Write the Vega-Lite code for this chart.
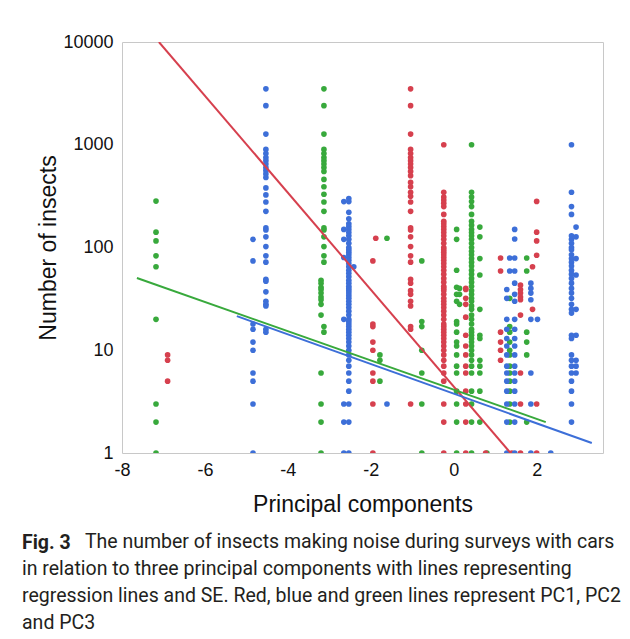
{
 "$schema": "https://vega.github.io/schema/vega-lite/v6.json",
 "width": 481, "height": 411,
 "autosize": "none",
 "padding": {"left": 122, "top": 42, "right": 27, "bottom": 186},
 "background": "white",
 "config": {"view": {"stroke": "#c8c8c8", "strokeWidth": 1}, "font": "Liberation Sans"},
 "title": {
  "text": "Fig. 3",
  "subtitle": [
   "\u200b\u00a0\u00a0\u00a0\u00a0\u00a0\u00a0\u00a0\u00a0\u00a0\u00a0\u00a0\u00a0\u00a0The number of insects making noise during surveys with cars",
   "in relation to three principal components with lines representing",
   "regression lines and SE. Red, blue and green lines represent PC1, PC2",
   "and PC3"
  ],
  "orient": "bottom", "anchor": "start", "frame": "group", "dx": -100, "offset": 18,
  "font": "Roboto", "fontSize": 19.5, "fontWeight": "bold", "color": "#231f20",
  "subtitleFont": "Roboto", "subtitleFontSize": 19.5, "subtitleFontWeight": "normal", "subtitleColor": "#231f20",
  "subtitleLineHeight": 27, "subtitlePadding": -21
 },
 "datasets": {
  "points": [
   {"pc":"PC3","score":-7.18,"count":283},{"pc":"PC3","score":-7.18,"count":141},{"pc":"PC3","score":-7.18,"count":116},{"pc":"PC3","score":-7.18,"count":83},{"pc":"PC3","score":-7.18,"count":65},{"pc":"PC3","score":-7.18,"count":20},{"pc":"PC3","score":-7.18,"count":3},{"pc":"PC3","score":-7.18,"count":2},{"pc":"PC3","score":-7.18,"count":1},
   {"pc":"PC3","score":-3.13,"count":3500},{"pc":"PC3","score":-3.13,"count":2400},{"pc":"PC3","score":-3.13,"count":1270},{"pc":"PC3","score":-3.13,"count":900},{"pc":"PC3","score":-3.13,"count":820},{"pc":"PC3","score":-3.13,"count":750},{"pc":"PC3","score":-3.13,"count":700},{"pc":"PC3","score":-3.13,"count":650},{"pc":"PC3","score":-3.13,"count":600},{"pc":"PC3","score":-3.13,"count":550},{"pc":"PC3","score":-3.13,"count":460},{"pc":"PC3","score":-3.13,"count":390},{"pc":"PC3","score":-3.13,"count":330},{"pc":"PC3","score":-3.13,"count":277},{"pc":"PC3","score":-3.13,"count":225},{"pc":"PC3","score":-3.13,"count":155},{"pc":"PC3","score":-3.13,"count":148},{"pc":"PC3","score":-3.13,"count":127},{"pc":"PC3","score":-3.13,"count":102},{"pc":"PC3","score":-3.13,"count":83},{"pc":"PC3","score":-3.13,"count":72},{"pc":"PC3","score":-3.13,"count":17},{"pc":"PC3","score":-3.13,"count":15},
   {"pc":"PC3","score":-3.2,"count":48},{"pc":"PC3","score":-3.2,"count":45},{"pc":"PC3","score":-3.2,"count":41},{"pc":"PC3","score":-3.2,"count":39},{"pc":"PC3","score":-3.2,"count":36},{"pc":"PC3","score":-3.2,"count":33},{"pc":"PC3","score":-3.2,"count":31},{"pc":"PC3","score":-3.2,"count":28},{"pc":"PC3","score":-3.2,"count":22},{"pc":"PC3","score":-3.2,"count":6},{"pc":"PC3","score":-3.2,"count":3},{"pc":"PC3","score":-3.2,"count":2},{"pc":"PC3","score":-3.2,"count":1},
   {"pc":"PC3","score":-1.61,"count":123},
   {"pc":"PC3","score":-1.78,"count":9},{"pc":"PC3","score":-1.78,"count":8},{"pc":"PC3","score":-1.78,"count":5},
   {"pc":"PC3","score":-0.77,"count":74},{"pc":"PC3","score":-0.77,"count":19},{"pc":"PC3","score":-0.77,"count":17},{"pc":"PC3","score":-0.77,"count":10},{"pc":"PC3","score":-0.77,"count":6},{"pc":"PC3","score":-0.77,"count":3},{"pc":"PC3","score":-0.77,"count":1},
   {"pc":"PC3","score":0.07,"count":150},{"pc":"PC3","score":0.07,"count":120},{"pc":"PC3","score":0.07,"count":60},{"pc":"PC3","score":0.07,"count":41},{"pc":"PC3","score":0.07,"count":35},{"pc":"PC3","score":0.07,"count":30},{"pc":"PC3","score":0.07,"count":19},{"pc":"PC3","score":0.07,"count":18},{"pc":"PC3","score":0.07,"count":15},{"pc":"PC3","score":0.07,"count":12},{"pc":"PC3","score":0.07,"count":11},{"pc":"PC3","score":0.07,"count":9},{"pc":"PC3","score":0.07,"count":7},{"pc":"PC3","score":0.07,"count":6},{"pc":"PC3","score":0.07,"count":4},{"pc":"PC3","score":0.07,"count":3},{"pc":"PC3","score":0.07,"count":2},{"pc":"PC3","score":0.07,"count":1},
   {"pc":"PC3","score":0.14,"count":40},{"pc":"PC3","score":0.14,"count":35},{"pc":"PC3","score":0.14,"count":28},
   {"pc":"PC3","score":0.43,"count":1000},{"pc":"PC3","score":0.43,"count":345},{"pc":"PC3","score":0.43,"count":310},{"pc":"PC3","score":0.43,"count":280},{"pc":"PC3","score":0.43,"count":250},{"pc":"PC3","score":0.43,"count":210},{"pc":"PC3","score":0.43,"count":180},{"pc":"PC3","score":0.43,"count":165},{"pc":"PC3","score":0.43,"count":150},{"pc":"PC3","score":0.43,"count":140},{"pc":"PC3","score":0.43,"count":130},{"pc":"PC3","score":0.43,"count":120},{"pc":"PC3","score":0.43,"count":110},{"pc":"PC3","score":0.43,"count":100},{"pc":"PC3","score":0.43,"count":92},{"pc":"PC3","score":0.43,"count":85},{"pc":"PC3","score":0.43,"count":78},{"pc":"PC3","score":0.43,"count":72},{"pc":"PC3","score":0.43,"count":66},{"pc":"PC3","score":0.43,"count":60},{"pc":"PC3","score":0.43,"count":55},{"pc":"PC3","score":0.43,"count":50},{"pc":"PC3","score":0.43,"count":46},{"pc":"PC3","score":0.43,"count":42},{"pc":"PC3","score":0.43,"count":38},{"pc":"PC3","score":0.43,"count":35},{"pc":"PC3","score":0.43,"count":32},{"pc":"PC3","score":0.43,"count":30},{"pc":"PC3","score":0.43,"count":27},{"pc":"PC3","score":0.43,"count":25},{"pc":"PC3","score":0.43,"count":22},{"pc":"PC3","score":0.43,"count":20},{"pc":"PC3","score":0.43,"count":18},{"pc":"PC3","score":0.43,"count":16},{"pc":"PC3","score":0.43,"count":15},{"pc":"PC3","score":0.43,"count":14},{"pc":"PC3","score":0.43,"count":13},{"pc":"PC3","score":0.43,"count":12},{"pc":"PC3","score":0.43,"count":11},{"pc":"PC3","score":0.43,"count":10},{"pc":"PC3","score":0.43,"count":9},{"pc":"PC3","score":0.43,"count":8},{"pc":"PC3","score":0.43,"count":7},{"pc":"PC3","score":0.43,"count":6},{"pc":"PC3","score":0.43,"count":4},{"pc":"PC3","score":0.43,"count":3},{"pc":"PC3","score":0.43,"count":2},{"pc":"PC3","score":0.43,"count":1},
   {"pc":"PC3","score":0.63,"count":158},{"pc":"PC3","score":0.63,"count":127},{"pc":"PC3","score":0.63,"count":78},{"pc":"PC3","score":0.63,"count":54},{"pc":"PC3","score":0.63,"count":25},{"pc":"PC3","score":0.63,"count":14},{"pc":"PC3","score":0.63,"count":13},{"pc":"PC3","score":0.63,"count":8},{"pc":"PC3","score":0.63,"count":7},{"pc":"PC3","score":0.63,"count":6},{"pc":"PC3","score":0.63,"count":4},{"pc":"PC3","score":0.63,"count":2},
   {"pc":"PC3","score":0.8,"count":1},
   {"pc":"PC3","score":1.35,"count":32},{"pc":"PC3","score":1.35,"count":17},{"pc":"PC3","score":1.35,"count":15},{"pc":"PC3","score":1.35,"count":12},{"pc":"PC3","score":1.35,"count":10},{"pc":"PC3","score":1.35,"count":9},{"pc":"PC3","score":1.35,"count":7},{"pc":"PC3","score":1.35,"count":6},{"pc":"PC3","score":1.35,"count":5},{"pc":"PC3","score":1.35,"count":4},{"pc":"PC3","score":1.35,"count":3},{"pc":"PC3","score":1.35,"count":2},
   {"pc":"PC3","score":1.76,"count":79},{"pc":"PC3","score":1.76,"count":59},{"pc":"PC3","score":1.76,"count":15},{"pc":"PC3","score":1.76,"count":12},{"pc":"PC3","score":1.76,"count":9},{"pc":"PC3","score":1.76,"count":2},
   {"pc":"PC1","score":-6.9,"count":9},{"pc":"PC1","score":-6.9,"count":8},{"pc":"PC1","score":-6.9,"count":5},
   {"pc":"PC1","score":-1.95,"count":74},{"pc":"PC1","score":-1.95,"count":18},{"pc":"PC1","score":-1.95,"count":17},{"pc":"PC1","score":-1.95,"count":12},{"pc":"PC1","score":-1.95,"count":10},{"pc":"PC1","score":-1.95,"count":6},{"pc":"PC1","score":-1.95,"count":5},{"pc":"PC1","score":-1.95,"count":3},{"pc":"PC1","score":-1.95,"count":1},
   {"pc":"PC1","score":-1.88,"count":123},
   {"pc":"PC1","score":-1.04,"count":3500},{"pc":"PC1","score":-1.04,"count":2400},{"pc":"PC1","score":-1.04,"count":1270},{"pc":"PC1","score":-1.04,"count":900},{"pc":"PC1","score":-1.04,"count":820},{"pc":"PC1","score":-1.04,"count":750},{"pc":"PC1","score":-1.04,"count":700},{"pc":"PC1","score":-1.04,"count":650},{"pc":"PC1","score":-1.04,"count":600},{"pc":"PC1","score":-1.04,"count":550},{"pc":"PC1","score":-1.04,"count":500},{"pc":"PC1","score":-1.04,"count":430},{"pc":"PC1","score":-1.04,"count":390},{"pc":"PC1","score":-1.04,"count":345},{"pc":"PC1","score":-1.04,"count":315},{"pc":"PC1","score":-1.04,"count":277},{"pc":"PC1","score":-1.04,"count":225},{"pc":"PC1","score":-1.04,"count":155},{"pc":"PC1","score":-1.04,"count":148},{"pc":"PC1","score":-1.04,"count":127},{"pc":"PC1","score":-1.04,"count":102},{"pc":"PC1","score":-1.04,"count":83},{"pc":"PC1","score":-1.04,"count":72},{"pc":"PC1","score":-1.04,"count":49},{"pc":"PC1","score":-1.04,"count":45},{"pc":"PC1","score":-1.04,"count":38},{"pc":"PC1","score":-1.04,"count":35},{"pc":"PC1","score":-1.04,"count":30},{"pc":"PC1","score":-1.04,"count":27},{"pc":"PC1","score":-1.04,"count":17},{"pc":"PC1","score":-1.04,"count":16},{"pc":"PC1","score":-1.04,"count":3},
   {"pc":"PC1","score":-0.24,"count":1000},{"pc":"PC1","score":-0.24,"count":345},{"pc":"PC1","score":-0.24,"count":310},{"pc":"PC1","score":-0.24,"count":290},{"pc":"PC1","score":-0.24,"count":270},{"pc":"PC1","score":-0.24,"count":250},{"pc":"PC1","score":-0.24,"count":210},{"pc":"PC1","score":-0.24,"count":180},{"pc":"PC1","score":-0.24,"count":170},{"pc":"PC1","score":-0.24,"count":160},{"pc":"PC1","score":-0.24,"count":150},{"pc":"PC1","score":-0.24,"count":140},{"pc":"PC1","score":-0.24,"count":130},{"pc":"PC1","score":-0.24,"count":120},{"pc":"PC1","score":-0.24,"count":110},{"pc":"PC1","score":-0.24,"count":100},{"pc":"PC1","score":-0.24,"count":95},{"pc":"PC1","score":-0.24,"count":90},{"pc":"PC1","score":-0.24,"count":85},{"pc":"PC1","score":-0.24,"count":80},{"pc":"PC1","score":-0.24,"count":75},{"pc":"PC1","score":-0.24,"count":70},{"pc":"PC1","score":-0.24,"count":65},{"pc":"PC1","score":-0.24,"count":60},{"pc":"PC1","score":-0.24,"count":55},{"pc":"PC1","score":-0.24,"count":50},{"pc":"PC1","score":-0.24,"count":46},{"pc":"PC1","score":-0.24,"count":42},{"pc":"PC1","score":-0.24,"count":40},{"pc":"PC1","score":-0.24,"count":38},{"pc":"PC1","score":-0.24,"count":35},{"pc":"PC1","score":-0.24,"count":32},{"pc":"PC1","score":-0.24,"count":30},{"pc":"PC1","score":-0.24,"count":28},{"pc":"PC1","score":-0.24,"count":26},{"pc":"PC1","score":-0.24,"count":24},{"pc":"PC1","score":-0.24,"count":22},{"pc":"PC1","score":-0.24,"count":20},{"pc":"PC1","score":-0.24,"count":18},{"pc":"PC1","score":-0.24,"count":17},{"pc":"PC1","score":-0.24,"count":16},{"pc":"PC1","score":-0.24,"count":15},{"pc":"PC1","score":-0.24,"count":14},{"pc":"PC1","score":-0.24,"count":13},{"pc":"PC1","score":-0.24,"count":12},{"pc":"PC1","score":-0.24,"count":11},{"pc":"PC1","score":-0.24,"count":10},{"pc":"PC1","score":-0.24,"count":9},{"pc":"PC1","score":-0.24,"count":8},{"pc":"PC1","score":-0.24,"count":7},{"pc":"PC1","score":-0.24,"count":6},{"pc":"PC1","score":-0.24,"count":5},{"pc":"PC1","score":-0.24,"count":3},{"pc":"PC1","score":-0.24,"count":2},{"pc":"PC1","score":-0.24,"count":1},
   {"pc":"PC1","score":0.29,"count":40},{"pc":"PC1","score":0.29,"count":39},{"pc":"PC1","score":0.29,"count":32},{"pc":"PC1","score":0.29,"count":28},{"pc":"PC1","score":0.29,"count":21},{"pc":"PC1","score":0.29,"count":14},{"pc":"PC1","score":0.29,"count":11},{"pc":"PC1","score":0.29,"count":9},{"pc":"PC1","score":0.29,"count":7},{"pc":"PC1","score":0.29,"count":6},{"pc":"PC1","score":0.29,"count":4},{"pc":"PC1","score":0.29,"count":3},{"pc":"PC1","score":0.29,"count":2},{"pc":"PC1","score":0.29,"count":1},
   {"pc":"PC1","score":0.77,"count":1},
   {"pc":"PC1","score":1.13,"count":79},{"pc":"PC1","score":1.13,"count":59},{"pc":"PC1","score":1.13,"count":15},{"pc":"PC1","score":1.13,"count":12},{"pc":"PC1","score":1.13,"count":10},{"pc":"PC1","score":1.13,"count":8},
   {"pc":"PC1","score":1.4,"count":1},
   {"pc":"PC1","score":1.61,"count":43},{"pc":"PC1","score":1.61,"count":39},{"pc":"PC1","score":1.61,"count":36},{"pc":"PC1","score":1.61,"count":33},{"pc":"PC1","score":1.61,"count":31},{"pc":"PC1","score":1.61,"count":22},{"pc":"PC1","score":1.61,"count":6},{"pc":"PC1","score":1.61,"count":3},{"pc":"PC1","score":1.61,"count":1},
   {"pc":"PC1","score":1.9,"count":65},{"pc":"PC1","score":1.9,"count":25},
   {"pc":"PC1","score":2.0,"count":281},{"pc":"PC1","score":2.0,"count":141},{"pc":"PC1","score":2.0,"count":116},{"pc":"PC1","score":2.0,"count":84},{"pc":"PC1","score":2.0,"count":3},{"pc":"PC1","score":2.0,"count":1},
   {"pc":"PC2","score":-4.84,"count":120},{"pc":"PC2","score":-4.84,"count":74},{"pc":"PC2","score":-4.84,"count":18},{"pc":"PC2","score":-4.84,"count":16},{"pc":"PC2","score":-4.84,"count":12},{"pc":"PC2","score":-4.84,"count":10},{"pc":"PC2","score":-4.84,"count":6},{"pc":"PC2","score":-4.84,"count":5},{"pc":"PC2","score":-4.84,"count":3},{"pc":"PC2","score":-4.84,"count":1},
   {"pc":"PC2","score":-4.53,"count":3500},{"pc":"PC2","score":-4.53,"count":2400},{"pc":"PC2","score":-4.53,"count":1270},{"pc":"PC2","score":-4.53,"count":900},{"pc":"PC2","score":-4.53,"count":820},{"pc":"PC2","score":-4.53,"count":750},{"pc":"PC2","score":-4.53,"count":700},{"pc":"PC2","score":-4.53,"count":650},{"pc":"PC2","score":-4.53,"count":600},{"pc":"PC2","score":-4.53,"count":560},{"pc":"PC2","score":-4.53,"count":520},{"pc":"PC2","score":-4.53,"count":480},{"pc":"PC2","score":-4.53,"count":380},{"pc":"PC2","score":-4.53,"count":325},{"pc":"PC2","score":-4.53,"count":277},{"pc":"PC2","score":-4.53,"count":225},{"pc":"PC2","score":-4.53,"count":155},{"pc":"PC2","score":-4.53,"count":148},{"pc":"PC2","score":-4.53,"count":127},{"pc":"PC2","score":-4.53,"count":102},{"pc":"PC2","score":-4.53,"count":83},{"pc":"PC2","score":-4.53,"count":72},{"pc":"PC2","score":-4.53,"count":49},{"pc":"PC2","score":-4.53,"count":47},{"pc":"PC2","score":-4.53,"count":37},{"pc":"PC2","score":-4.53,"count":30},{"pc":"PC2","score":-4.53,"count":28},{"pc":"PC2","score":-4.53,"count":27},{"pc":"PC2","score":-4.53,"count":16},{"pc":"PC2","score":-4.53,"count":15},
   {"pc":"PC2","score":-2.53,"count":300},{"pc":"PC2","score":-2.53,"count":280},{"pc":"PC2","score":-2.53,"count":220},{"pc":"PC2","score":-2.53,"count":190},{"pc":"PC2","score":-2.53,"count":170},{"pc":"PC2","score":-2.53,"count":160},{"pc":"PC2","score":-2.53,"count":150},{"pc":"PC2","score":-2.53,"count":140},{"pc":"PC2","score":-2.53,"count":130},{"pc":"PC2","score":-2.53,"count":120},{"pc":"PC2","score":-2.53,"count":110},{"pc":"PC2","score":-2.53,"count":100},{"pc":"PC2","score":-2.53,"count":95},{"pc":"PC2","score":-2.53,"count":90},{"pc":"PC2","score":-2.53,"count":85},{"pc":"PC2","score":-2.53,"count":80},{"pc":"PC2","score":-2.53,"count":75},{"pc":"PC2","score":-2.53,"count":70},{"pc":"PC2","score":-2.53,"count":65},{"pc":"PC2","score":-2.53,"count":60},{"pc":"PC2","score":-2.53,"count":56},{"pc":"PC2","score":-2.53,"count":52},{"pc":"PC2","score":-2.53,"count":48},{"pc":"PC2","score":-2.53,"count":45},{"pc":"PC2","score":-2.53,"count":42},{"pc":"PC2","score":-2.53,"count":40},{"pc":"PC2","score":-2.53,"count":38},{"pc":"PC2","score":-2.53,"count":36},{"pc":"PC2","score":-2.53,"count":34},{"pc":"PC2","score":-2.53,"count":32},{"pc":"PC2","score":-2.53,"count":30},{"pc":"PC2","score":-2.53,"count":28},{"pc":"PC2","score":-2.53,"count":26},{"pc":"PC2","score":-2.53,"count":24},{"pc":"PC2","score":-2.53,"count":22},{"pc":"PC2","score":-2.53,"count":20},{"pc":"PC2","score":-2.53,"count":19},{"pc":"PC2","score":-2.53,"count":18},{"pc":"PC2","score":-2.53,"count":17},{"pc":"PC2","score":-2.53,"count":16},{"pc":"PC2","score":-2.53,"count":15},{"pc":"PC2","score":-2.53,"count":14},{"pc":"PC2","score":-2.53,"count":13},{"pc":"PC2","score":-2.53,"count":12},{"pc":"PC2","score":-2.53,"count":11},{"pc":"PC2","score":-2.53,"count":10},{"pc":"PC2","score":-2.53,"count":9},{"pc":"PC2","score":-2.53,"count":8},{"pc":"PC2","score":-2.53,"count":7},{"pc":"PC2","score":-2.53,"count":6},{"pc":"PC2","score":-2.53,"count":5},{"pc":"PC2","score":-2.53,"count":4},{"pc":"PC2","score":-2.53,"count":3},{"pc":"PC2","score":-2.53,"count":2},{"pc":"PC2","score":-2.53,"count":1},
   {"pc":"PC2","score":-2.65,"count":280},{"pc":"PC2","score":-2.65,"count":150},{"pc":"PC2","score":-2.65,"count":120},{"pc":"PC2","score":-2.65,"count":80},{"pc":"PC2","score":-2.65,"count":20},{"pc":"PC2","score":-2.65,"count":3},{"pc":"PC2","score":-2.65,"count":2},{"pc":"PC2","score":-2.65,"count":1},
   {"pc":"PC2","score":-2.41,"count":65},
   {"pc":"PC2","score":-1.61,"count":3},
   {"pc":"PC2","score":1.28,"count":39},{"pc":"PC2","score":1.28,"count":32},{"pc":"PC2","score":1.28,"count":20},{"pc":"PC2","score":1.28,"count":16},{"pc":"PC2","score":1.28,"count":13},{"pc":"PC2","score":1.28,"count":11},{"pc":"PC2","score":1.28,"count":9},{"pc":"PC2","score":1.28,"count":7},{"pc":"PC2","score":1.28,"count":6},{"pc":"PC2","score":1.28,"count":5},{"pc":"PC2","score":1.28,"count":4},{"pc":"PC2","score":1.28,"count":3},{"pc":"PC2","score":1.28,"count":2},{"pc":"PC2","score":1.28,"count":1},
   {"pc":"PC2","score":1.35,"count":79},{"pc":"PC2","score":1.35,"count":59},
   {"pc":"PC2","score":1.47,"count":150},{"pc":"PC2","score":1.47,"count":121},{"pc":"PC2","score":1.47,"count":79},{"pc":"PC2","score":1.47,"count":59},{"pc":"PC2","score":1.47,"count":45},{"pc":"PC2","score":1.47,"count":35},{"pc":"PC2","score":1.47,"count":30},{"pc":"PC2","score":1.47,"count":20},{"pc":"PC2","score":1.47,"count":16},{"pc":"PC2","score":1.47,"count":13},{"pc":"PC2","score":1.47,"count":11},{"pc":"PC2","score":1.47,"count":9},{"pc":"PC2","score":1.47,"count":7},{"pc":"PC2","score":1.47,"count":6},{"pc":"PC2","score":1.47,"count":5},{"pc":"PC2","score":1.47,"count":4},{"pc":"PC2","score":1.47,"count":3},{"pc":"PC2","score":1.47,"count":2},{"pc":"PC2","score":1.47,"count":1},
   {"pc":"PC2","score":1.86,"count":45},{"pc":"PC2","score":1.86,"count":40},{"pc":"PC2","score":1.86,"count":36},{"pc":"PC2","score":1.86,"count":31},{"pc":"PC2","score":1.86,"count":20},{"pc":"PC2","score":1.86,"count":6},{"pc":"PC2","score":1.86,"count":3},{"pc":"PC2","score":1.86,"count":1},
   {"pc":"PC2","score":2.02,"count":20},
   {"pc":"PC2","score":2.34,"count":1},
   {"pc":"PC2","score":2.84,"count":1000},{"pc":"PC2","score":2.84,"count":345},{"pc":"PC2","score":2.84,"count":250},{"pc":"PC2","score":2.84,"count":210},{"pc":"PC2","score":2.84,"count":130},{"pc":"PC2","score":2.84,"count":120},{"pc":"PC2","score":2.84,"count":110},{"pc":"PC2","score":2.84,"count":100},{"pc":"PC2","score":2.84,"count":95},{"pc":"PC2","score":2.84,"count":85},{"pc":"PC2","score":2.84,"count":78},{"pc":"PC2","score":2.84,"count":72},{"pc":"PC2","score":2.84,"count":66},{"pc":"PC2","score":2.84,"count":60},{"pc":"PC2","score":2.84,"count":55},{"pc":"PC2","score":2.84,"count":50},{"pc":"PC2","score":2.84,"count":45},{"pc":"PC2","score":2.84,"count":40},{"pc":"PC2","score":2.84,"count":36},{"pc":"PC2","score":2.84,"count":32},{"pc":"PC2","score":2.84,"count":28},{"pc":"PC2","score":2.84,"count":25},{"pc":"PC2","score":2.84,"count":23},{"pc":"PC2","score":2.84,"count":14},{"pc":"PC2","score":2.84,"count":13},{"pc":"PC2","score":2.84,"count":9},{"pc":"PC2","score":2.84,"count":8},{"pc":"PC2","score":2.84,"count":7},{"pc":"PC2","score":2.84,"count":6},{"pc":"PC2","score":2.84,"count":5},{"pc":"PC2","score":2.84,"count":4},{"pc":"PC2","score":2.84,"count":3},{"pc":"PC2","score":2.84,"count":2},
   {"pc":"PC2","score":2.95,"count":158},{"pc":"PC2","score":2.95,"count":127},{"pc":"PC2","score":2.95,"count":78},{"pc":"PC2","score":2.95,"count":54},{"pc":"PC2","score":2.95,"count":25},{"pc":"PC2","score":2.95,"count":14},{"pc":"PC2","score":2.95,"count":8},{"pc":"PC2","score":2.95,"count":7},{"pc":"PC2","score":2.95,"count":6}
  ],
  "lines": [
   {"pc":"PC1","score":-7.11,"count":10000},{"pc":"PC1","score":1.37,"count":1},
   {"pc":"PC2","score":-5.23,"count":21.5},{"pc":"PC2","score":3.33,"count":1.25},
   {"pc":"PC3","score":-7.64,"count":50.5},{"pc":"PC3","score":2.22,"count":2.0}
  ]
 },
 "encoding": {
  "x": {"field": "score", "type": "quantitative",
   "scale": {"domain": [-8, 3.6], "nice": false, "zero": false},
   "axis": {"title": "Principal components", "values": [-8, -6, -4, -2, 0, 2], "ticks": false, "grid": false, "domain": false,
    "labelExpr": "datum.value < 0 ? '-' + abs(datum.value) : '' + datum.value",
    "labelFontSize": 18, "labelColor": "#111111", "labelPadding": 8, "labelFlush": false,
    "titleFontSize": 23, "titleFontWeight": "normal", "titleColor": "#111111", "titlePadding": 14}},
  "y": {"field": "count", "type": "quantitative",
   "scale": {"type": "log", "domain": [1, 10000], "nice": false},
   "axis": {"title": "Number of insects", "values": [1, 10, 100, 1000, 10000], "format": "d", "ticks": false, "grid": false, "domain": false,
    "labelFontSize": 18, "labelColor": "#111111", "labelPadding": 9, "labelFlush": false, "labelOverlap": false,
    "titleFontSize": 23, "titleFontWeight": "normal", "titleColor": "#111111", "titlePadding": 2}},
  "color": {"field": "pc", "type": "nominal",
   "scale": {"domain": ["PC1", "PC2", "PC3"], "range": ["#d6404e", "#3d6fd8", "#38a93c"]}, "legend": null}
 },
 "layer": [
  {"data": {"name": "points"}, "mark": {"type": "circle", "size": 32, "opacity": 1, "clip": true}},
  {"data": {"name": "lines"}, "mark": {"type": "line", "strokeWidth": 2, "clip": true}}
 ]
}
